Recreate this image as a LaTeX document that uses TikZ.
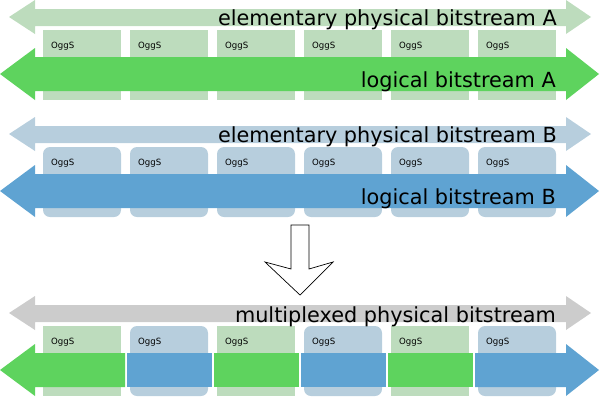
\documentclass[tikz,border=0pt]{standalone}
\usepackage{fontspec}
\setmainfont{DejaVu Sans}
\definecolor{paleGreen}{RGB}{189,220,189}
\definecolor{strongGreen}{RGB}{94,211,94}
\definecolor{paleBlue}{RGB}{183,206,221}
\definecolor{strongBlue}{RGB}{95,163,210}
\definecolor{paleGrey}{RGB}{204,204,204}
\tikzset{
  streamtext/.style={anchor=base east, inner sep=0pt, font=\fontsize{20.8}{24}\selectfont},
  oggs/.style={anchor=base west, inner sep=0pt, font=\fontsize{8.6}{10}\selectfont},
  pageA/.style={fill=paleGreen},
  pageB/.style={fill=paleBlue, rounded corners=7pt},
  segA/.style={fill=strongGreen},
  segB/.style={fill=strongBlue}
}
\begin{document}
\begin{tikzpicture}[x=1pt, y=-1pt]
  \useasboundingbox (0,0) rectangle (600,397);

  % Row A: stream A alone
  \begin{scope}
    % elementary physical bitstream A
    \fill[paleGreen] (9,17) -- (35,0) -- (35,9) -- (566,9) -- (566,0) -- (591,17) -- (566,34) -- (566,26) -- (35,26) -- (35,34) -- cycle;
    % pages
    \foreach \i [evaluate=\i as \x using 43+87*\i] in {0,...,5} {
      \path[pageA] (\x,30) rectangle ++(78,70);
      \node[oggs] (oggA\i) at (\x+8,48) {OggS};
    }
    % logical bitstream A
    \fill[strongGreen] (0,74) -- (35,48) -- (35,57) -- (566,57) -- (566,48) -- (599,74) -- (566,100) -- (566,91) -- (35,91) -- (35,100) -- cycle;
    \node[streamtext] (physA) at (557,25) {elementary physical bitstream A};
    \node[streamtext] (logA) at (556,87) {logical bitstream A};
  \end{scope}

  % Row B: stream B alone
  \begin{scope}[shift={(0,117)}]
    % elementary physical bitstream B
    \fill[paleBlue] (9,17) -- (35,0) -- (35,9) -- (566,9) -- (566,0) -- (591,17) -- (566,34) -- (566,26) -- (35,26) -- (35,34) -- cycle;
    % pages
    \foreach \i [evaluate=\i as \x using 43+87*\i] in {0,...,5} {
      \path[pageB] (\x,30) rectangle ++(78,70);
      \node[oggs] (oggB\i) at (\x+8,48) {OggS};
    }
    % logical bitstream B
    \fill[strongBlue] (0,74) -- (35,48) -- (35,57) -- (566,57) -- (566,48) -- (599,74) -- (566,100) -- (566,91) -- (35,91) -- (35,100) -- cycle;
    \node[streamtext] (physB) at (557,25) {elementary physical bitstream B};
    \node[streamtext] (logB) at (556,87) {logical bitstream B};
  \end{scope}

  % Multiplexing step
  \draw[line width=0.7pt, fill=white] (291,225) -- (309,225) -- (309,269) -- (333,262) -- (300,295) -- (265,262) -- (291,269) -- cycle;

  % Row C: both streams interleaved
  \begin{scope}[shift={(0,296)}]
    % multiplexed physical bitstream
    \fill[paleGrey] (9,17) -- (35,0) -- (35,9) -- (566,9) -- (566,0) -- (591,17) -- (566,34) -- (566,26) -- (35,26) -- (35,34) -- cycle;
    % pages, alternating A and B
    \foreach \i/\s [evaluate=\i as \x using 43+87*\i] in {0/A,1/B,2/A,3/B,4/A,5/B} {
      \path[page\s] (\x,30) rectangle ++(78,70);
      \node[oggs] (oggC\i) at (\x+8,48) {OggS};
    }
    % logical segments
    \path[segA] (0,74) -- (35,48) -- (35,57) -- (125,57) -- (125,91) -- (35,91) -- (35,100) -- cycle;
    \foreach \i/\s [evaluate=\i as \x using 39+87*\i] in {1/B,2/A,3/B,4/A} {
      \path[seg\s] (\x+1,57) rectangle (\x+86,91);
    }
    \path[segB] (475,57) -- (566,57) -- (566,48) -- (599,74) -- (566,100) -- (566,91) -- (475,91) -- cycle;
    \node[streamtext] (physC) at (556,26) {multiplexed physical bitstream};
  \end{scope}
\end{tikzpicture}
\end{document}
